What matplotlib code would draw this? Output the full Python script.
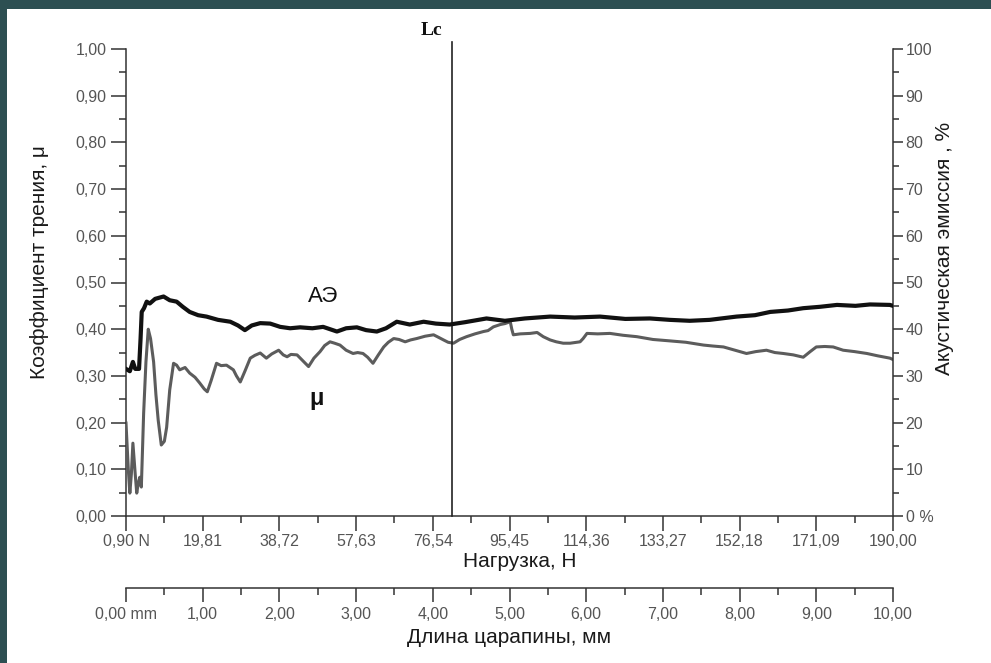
import matplotlib
matplotlib.use("Agg")
import matplotlib.pyplot as plt
from matplotlib.ticker import FixedLocator, MultipleLocator
from matplotlib.patches import Rectangle

plt.rcParams['font.family'] = ['Liberation Sans', 'DejaVu Sans']

# ---------------- data ----------------
# scratch length (mm) tick positions and the two label sets
length_ticks = [0, 1, 2, 3, 4, 5, 6, 7, 8, 9, 10]
load_labels = ['0,90 N', '19,81', '38,72', '57,63', '76,54', '95,45',
               '114,36', '133,27', '152,18', '171,09', '190,00']
length_labels = ['0,00 mm', '1,00', '2,00', '3,00', '4,00', '5,00',
                 '6,00', '7,00', '8,00', '9,00', '10,00']
mu_ticks = [0.0, 0.1, 0.2, 0.3, 0.4, 0.5, 0.6, 0.7, 0.8, 0.9, 1.0]
mu_labels = ['0,00', '0,10', '0,20', '0,30', '0,40', '0,50',
             '0,60', '0,70', '0,80', '0,90', '1,00']
ae_ticks = [0, 10, 20, 30, 40, 50, 60, 70, 80, 90, 100]
ae_labels = ['0 %', '10', '20', '30', '40', '50', '60', '70', '80', '90', '100']

load_min, load_step = 0.90, 18.91   # N per mm of scratch
lc_load = 81.2                      # critical load Lc, N

# friction coefficient mu vs scratch length (mm)
mu_x = [0.00, 0.03, 0.05, 0.07, 0.09, 0.12, 0.14, 0.16, 0.18, 0.20, 0.23,
        0.26, 0.29, 0.32, 0.36, 0.39, 0.42, 0.46, 0.50, 0.53, 0.57, 0.62,
        0.66, 0.70, 0.77, 0.83, 0.90, 0.96, 1.02, 1.06, 1.11, 1.18, 1.24,
        1.31, 1.40, 1.44, 1.49, 1.55, 1.62, 1.68, 1.75, 1.83, 1.90, 1.99,
        2.05, 2.10, 2.15, 2.23, 2.29, 2.38, 2.45, 2.53, 2.59, 2.66, 2.72,
        2.79, 2.87, 2.96, 3.02, 3.09, 3.15, 3.22, 3.29, 3.36, 3.42, 3.49,
        3.56, 3.64, 3.71, 3.79, 3.90, 4.01, 4.07, 4.14, 4.20, 4.27, 4.35,
        4.44, 4.55, 4.66, 4.72, 4.79, 4.88, 4.94, 5.01, 5.03, 5.05, 5.14,
        5.27, 5.36, 5.44, 5.53, 5.61, 5.70, 5.79, 5.92, 5.96, 6.01, 6.15,
        6.31, 6.48, 6.66, 6.87, 7.09, 7.30, 7.53, 7.65, 7.79, 7.94, 8.09,
        8.21, 8.35, 8.46, 8.57, 8.70, 8.83, 8.92, 9.00, 9.11, 9.22, 9.35,
        9.50, 9.66, 9.80, 9.96, 10.0]
mu_y = [0.199, 0.100, 0.049, 0.090, 0.156, 0.090, 0.049, 0.070, 0.083, 0.062, 0.220,
        0.330, 0.400, 0.380, 0.330, 0.260, 0.205, 0.152, 0.160, 0.190, 0.270, 0.327,
        0.323, 0.313, 0.318, 0.306, 0.297, 0.285, 0.272, 0.266, 0.290, 0.327, 0.322,
        0.323, 0.313, 0.300, 0.287, 0.310, 0.338, 0.344, 0.349, 0.338, 0.347, 0.355,
        0.345, 0.341, 0.346, 0.345, 0.335, 0.320, 0.338, 0.352, 0.365, 0.373, 0.370,
        0.366, 0.355, 0.348, 0.350, 0.348, 0.340, 0.327, 0.345, 0.362, 0.372, 0.380,
        0.378, 0.373, 0.377, 0.380, 0.385, 0.388, 0.383, 0.377, 0.372, 0.370, 0.378,
        0.384, 0.390, 0.395, 0.397, 0.405, 0.410, 0.412, 0.416, 0.400, 0.388, 0.390,
        0.391, 0.393, 0.384, 0.377, 0.373, 0.370, 0.370, 0.373, 0.380, 0.391, 0.390,
        0.391, 0.387, 0.384, 0.378, 0.375, 0.372, 0.366, 0.364, 0.362, 0.355, 0.348,
        0.352, 0.355, 0.350, 0.348, 0.345, 0.340, 0.352, 0.362, 0.363, 0.362, 0.355,
        0.352, 0.348, 0.343, 0.338, 0.335]

# acoustic emission (%) vs scratch length (mm)
ae_x = [0.00, 0.05, 0.09, 0.12, 0.17, 0.19, 0.205, 0.235, 0.27, 0.31, 0.38,
        0.49, 0.57, 0.66, 0.74, 0.83, 0.94, 1.05, 1.20, 1.36, 1.46, 1.55,
        1.64, 1.75, 1.88, 2.01, 2.14, 2.27, 2.43, 2.57, 2.75, 2.87, 3.01,
        3.13, 3.27, 3.39, 3.53, 3.70, 3.88, 4.04, 4.22, 4.42, 4.70, 4.94,
        5.20, 5.53, 5.85, 6.18, 6.51, 6.83, 7.09, 7.35, 7.61, 7.96, 8.20,
        8.40, 8.63, 8.83, 9.05, 9.27, 9.51, 9.70, 9.96, 10.0]
ae_y = [31.5, 31.0, 33.0, 31.5, 31.5, 38.0, 43.7, 44.5, 45.9, 45.5, 46.5,
        47.0, 46.2, 45.9, 44.8, 43.7, 43.0, 42.7, 42.0, 41.6, 40.8, 39.8,
        40.8, 41.3, 41.2, 40.5, 40.2, 40.4, 40.2, 40.5, 39.5, 40.2, 40.4,
        39.8, 39.5, 40.2, 41.6, 41.0, 41.6, 41.2, 41.0, 41.5, 42.3, 41.8,
        42.3, 42.7, 42.5, 42.7, 42.2, 42.3, 42.0, 41.8, 42.0, 42.7, 43.0,
        43.7, 44.0, 44.5, 44.8, 45.2, 45.0, 45.3, 45.2, 45.0]

# ---------------- figure ----------------
W, H = 991, 663
fig = plt.figure(figsize=(W / 100, H / 100), dpi=100)
fig.patch.set_facecolor('#2d4f52')
fig.add_artist(Rectangle((7 / W, 0), 1, 1 - 9 / H, transform=fig.transFigure,
                         facecolor='white', edgecolor='none', zorder=-10))

ax = fig.add_axes([126 / W, 1 - 516 / H, 767 / W, 467 / H])
ax.set_facecolor('none')
ax.set_xlim(0, 10)
ax.set_ylim(0, 1)
for s in ['top', 'right']:
    ax.spines[s].set_visible(False)
for s in ['left', 'bottom']:
    ax.spines[s].set_color('#333333')
    ax.spines[s].set_linewidth(1.1)

spine_c = '#333333'
lab_c = '#555555'
ax.xaxis.set_major_locator(FixedLocator(length_ticks))
ax.set_xticklabels(load_labels)
ax.xaxis.set_minor_locator(MultipleLocator(0.5))
ax.yaxis.set_major_locator(FixedLocator(mu_ticks))
ax.set_yticklabels(mu_labels)
ax.yaxis.set_minor_locator(MultipleLocator(0.05))
ax.tick_params(axis='both', which='major', direction='out', length=11, width=1.1,
               color=spine_c, labelsize=11.5, labelcolor=lab_c)
ax.tick_params(axis='both', which='minor', direction='out', length=5, width=1.1,
               color=spine_c)
ax.tick_params(axis='x', which='major', pad=2)
ax.tick_params(axis='y', which='major', pad=3)

ax.set_xlabel('Нагрузка, Н', fontsize=15, color='#1a1a1a', labelpad=6)
ax.xaxis.set_label_coords(0.513, -0.078)
ax.set_ylabel('Коэффициент трения, μ', fontsize=15, color='#1a1a1a')
ax.yaxis.set_label_coords(-0.100, 0.544)

# friction curve
ax.plot(mu_x, mu_y, color='#5c5c5c', lw=2.2, zorder=3)

# right axis: acoustic emission
ax2 = ax.twinx()
ax2.set_ylim(0, 100)
ax2.spines['top'].set_visible(False)
ax2.spines['left'].set_visible(False)
ax2.spines['bottom'].set_visible(False)
ax2.spines['right'].set_color(spine_c)
ax2.spines['right'].set_linewidth(1.1)
ax2.yaxis.set_major_locator(FixedLocator(ae_ticks))
ax2.set_yticklabels(ae_labels)
ax2.yaxis.set_minor_locator(MultipleLocator(5))
ax2.tick_params(axis='y', which='major', direction='out', length=7, width=1.1,
                color=spine_c, labelsize=11.5, labelcolor=lab_c, pad=2)
ax2.tick_params(axis='y', which='minor', direction='out', length=4, width=1.1,
                color=spine_c)
ax2.set_ylabel('Акустическая эмиссия , %', fontsize=15, color='#1a1a1a')
ax2.yaxis.set_label_coords(1.0548, 0.574)
ax2.plot(ae_x, ae_y, color='#111111', lw=3.0, zorder=4)

# Lc line
lc_mm = (lc_load - load_min) / load_step
ax.axvline(lc_mm, ymin=0, ymax=1.015, color='#222222', lw=1.2, clip_on=False, zorder=5)
ax.text(lc_mm - 0.27, 1.04, 'Lc', transform=ax.get_xaxis_transform(),
        ha='center', va='center', fontsize=14, fontweight='bold',
        family=['Liberation Serif', 'DejaVu Serif'], color='#111111')

# curve labels
ax.text(2.57, 0.471, 'АЭ', ha='center', va='center', fontsize=16, color='#111111')
ax.text(2.49, 0.252, 'μ', ha='center', va='center', fontsize=17, fontweight='bold',
        color='#111111')

# secondary scratch-length axis
sec = ax.secondary_xaxis(-72 / 467)
sec.set_xticks(length_ticks)
sec.set_xticklabels(length_labels)
sec.xaxis.set_minor_locator(MultipleLocator(0.5))
sec.spines['bottom'].set_color(spine_c)
sec.spines['bottom'].set_linewidth(1.1)
sec.tick_params(axis='x', which='major', direction='out', length=10, width=1.1,
                color=spine_c, labelsize=11.5, labelcolor=lab_c, pad=4)
sec.tick_params(axis='x', which='minor', direction='out', length=5, width=1.1,
                color=spine_c)
sec.set_xlabel('Длина царапины, мм', fontsize=15, color='#1a1a1a', labelpad=4)

fig.savefig('out.png', dpi=100, facecolor=fig.get_facecolor())
